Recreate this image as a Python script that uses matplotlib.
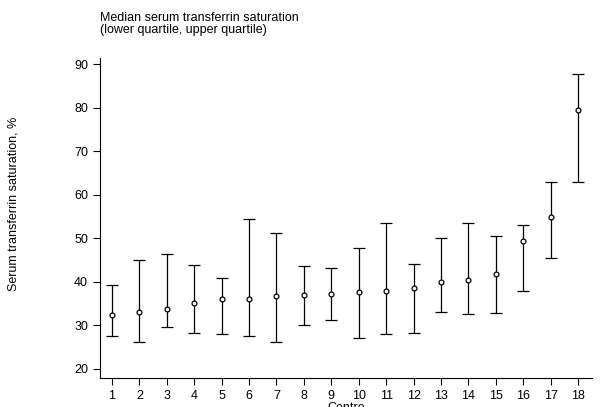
import matplotlib
matplotlib.use("Agg")
import matplotlib.pyplot as plt

plt.rcParams["font.family"] = ["Liberation Sans", "DejaVu Sans"]

centres = list(range(1, 19))
median = [32.3, 33.0, 33.8, 35.2, 36.0, 36.0, 36.7, 37.0, 37.3, 37.6, 38.0, 38.7,
          40.0, 40.5, 41.8, 49.5, 55.0, 79.5]
lower_q = [27.5, 26.3, 29.6, 28.3, 28.1, 27.5, 26.3, 30.2, 31.2, 27.2, 28.1, 28.3,
           33.0, 32.6, 32.8, 37.9, 45.4, 63.0]
upper_q = [39.3, 45.0, 46.4, 43.8, 40.8, 54.4, 51.2, 43.6, 43.1, 47.8, 53.5, 44.1,
           50.0, 53.5, 50.6, 53.1, 63.0, 87.7]

fig = plt.figure(figsize=(6.02, 4.07), dpi=100)
ax = fig.add_axes([0.166, 0.071, 0.817, 0.786])

err = [[m - l for m, l in zip(median, lower_q)], [u - m for m, u in zip(median, upper_q)]]
ax.errorbar(centres, median, yerr=err, fmt="o", color="black", mfc="white",
            mec="black", ms=3.5, mew=0.9, elinewidth=0.9, capsize=4, capthick=0.9)

ax.set_xlim(0.56, 18.5)
ax.set_ylim(17.9, 91.4)
ax.set_xticks(centres)
ax.set_yticks(range(20, 91, 10))
ax.tick_params(labelsize=9, length=5, width=0.8)
for s in ["top", "right"]:
    ax.spines[s].set_visible(False)
ax.spines["left"].set_linewidth(0.8)
ax.spines["bottom"].set_linewidth(0.8)

ax.set_xlabel("Centre", fontsize=9, labelpad=0)
fig.text(0.022, 0.5, "Serum transferrin saturation, %", rotation=90,
         va="center", ha="center", fontsize=9)
fig.text(0.166, 0.97, "Median serum transferrin saturation\n(lower quartile, upper quartile)",
         ha="left", va="top", fontsize=9, linespacing=1.0)

fig.savefig("out.png", dpi=100, facecolor="white")
